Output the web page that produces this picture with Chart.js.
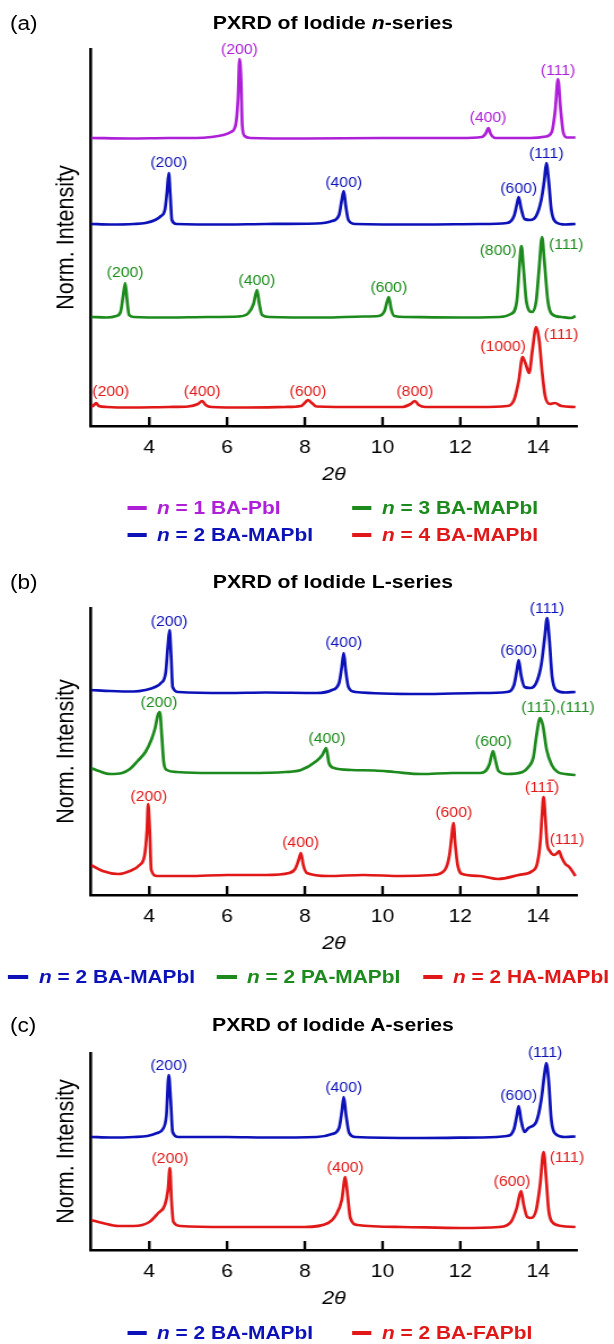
<!DOCTYPE html>
<html>
<head>
<meta charset="utf-8">
<script src="https://cdn.jsdelivr.net/npm/chart.js@4.4.1/dist/chart.umd.min.js"></script>
<style>
  html, body { margin: 0; background: #fff; }
  /* the source figure is stretched a bit sideways, so draw narrow and widen it */
  #page { position: relative; width: 544px; height: 1344px; transform: scaleX(1.1287); transform-origin: 0 0;
          font-family: "Liberation Sans", Arial, sans-serif; color: #000; }
  .abs { position: absolute; white-space: nowrap; line-height: 1; transform: translateY(-50%); }
  .title { font-weight: bold; font-size: 18.8px; transform: translate(-50%, -50%); }
  .tag { font-size: 20px; }
  .leg { font-weight: bold; font-size: 18.5px; }
  .dash { position: absolute; width: 17.5px; height: 3.3px; }
  canvas { position: absolute; left: 0; }
</style>
</head>
<body>
<div id="page">
  <div class="abs tag" style="left:8.9px;top:23px">(a)</div>
  <div class="abs title" style="left:295px;top:23px">PXRD of Iodide <i>n</i>-series</div>
  <canvas id="chartA" width="544" height="452" style="top:40px"></canvas>
  <div class="dash" style="left:112.5px;top:506.4px;background:#AE20D8"></div>
  <div class="abs leg" style="left:139.1px;top:508px;color:#AE20D8"><i>n</i> = 1 BA-PbI</div>
  <div class="dash" style="left:311.9px;top:506.4px;background:#1C8A1C"></div>
  <div class="abs leg" style="left:338.4px;top:508px;color:#1C8A1C"><i>n</i> = 3 BA-MAPbI</div>
  <div class="dash" style="left:112.5px;top:533.4px;background:#0D12B8"></div>
  <div class="abs leg" style="left:139.1px;top:535px;color:#0D12B8"><i>n</i> = 2 BA-MAPbI</div>
  <div class="dash" style="left:311.9px;top:533.4px;background:#E01818"></div>
  <div class="abs leg" style="left:338.4px;top:535px;color:#E01818"><i>n</i> = 4 BA-MAPbI</div>

  <div class="abs tag" style="left:8.9px;top:582px">(b)</div>
  <div class="abs title" style="left:295px;top:582px">PXRD of Iodide L-series</div>
  <canvas id="chartB" width="544" height="362" style="top:599px"></canvas>
  <div class="dash" style="left:7.1px;top:975.4px;background:#0D12B8"></div>
  <div class="abs leg" style="left:34.6px;top:977px;color:#0D12B8"><i>n</i> = 2 BA-MAPbI</div>
  <div class="dash" style="left:192.3px;top:975.4px;background:#1C8A1C"></div>
  <div class="abs leg" style="left:218.8px;top:977px;color:#1C8A1C"><i>n</i> = 2 PA-MAPbI</div>
  <div class="dash" style="left:374.8px;top:975.4px;background:#E01818"></div>
  <div class="abs leg" style="left:401.4px;top:977px;color:#E01818"><i>n</i> = 2 HA-MAPbI</div>

  <div class="abs tag" style="left:8.9px;top:1025px">(c)</div>
  <div class="abs title" style="left:295px;top:1025px">PXRD of Iodide A-series</div>
  <canvas id="chartC" width="544" height="272" style="top:1044px"></canvas>
  <div class="dash" style="left:112.5px;top:1331.4px;background:#0D12B8"></div>
  <div class="abs leg" style="left:139.1px;top:1333px;color:#0D12B8"><i>n</i> = 2 BA-MAPbI</div>
  <div class="dash" style="left:311.9px;top:1331.4px;background:#E01818"></div>
  <div class="abs leg" style="left:338.4px;top:1333px;color:#E01818"><i>n</i> = 2 BA-FAPbI</div>
</div>

<script>
// x axis (2theta) and tick labels
const xMin = 2.5, xMax = 15;
const xTicks = [4, 6, 8, 10, 12, 14];

const purple = "#AE20D8";
const blue = "#0D12B8";
const green = "#1C8A1C";
const red = "#E01818";

// ---- (a) n-series : [2theta, offset intensity]
const aN1BAPbI = [[2.5,288],[3.5,287.5],[4.5,288],[5.2,288],[5.6,289],[5.9,291],[6.1,294],[6.22,301],[6.28,326],[6.32,367],[6.36,346],[6.39,301],[6.45,290],[6.6,288],[8,287.5],[10,288],[12,288],[12.55,289],[12.66,293],[12.72,298],[12.78,292],[12.9,288],[13.8,288],[14.2,289.5],[14.35,294],[14.44,316],[14.51,347],[14.58,316],[14.65,293],[14.75,288.5],[14.96,288.5]];
const aN2BAMAPbI = [[2.5,202],[3.0,201.5],[3.6,202],[3.9,203],[4.15,206],[4.3,210],[4.4,216],[4.46,236],[4.5,253],[4.54,231],[4.58,206],[4.7,202],[6,201.5],[7,202],[8.3,202.5],[8.7,205],[8.88,211],[8.95,226],[9.0,235],[9.05,221],[9.12,206],[9.3,202],[11,201.5],[12.5,202],[13.2,203],[13.38,210],[13.45,221],[13.5,229],[13.56,218],[13.65,207],[13.8,206],[13.95,210],[14.08,226],[14.16,246],[14.21,263],[14.27,246],[14.34,216],[14.45,204],[14.7,201.5],[14.96,202]];
const aN3BAMAPbI = [[2.5,109],[2.9,108.5],[3.15,110],[3.26,114],[3.32,128],[3.38,143],[3.43,125],[3.48,111],[3.6,109],[4.5,108.5],[5.5,109],[6.3,109.5],[6.55,113],[6.68,122],[6.77,136],[6.83,122],[6.9,111],[7.1,109],[8.5,108.5],[9.5,109.5],[9.9,110],[10.05,115],[10.16,129],[10.22,117],[10.3,110],[10.6,109],[12,108.5],[13.0,109],[13.3,112],[13.45,124],[13.52,160],[13.57,180],[13.62,160],[13.7,124],[13.84,114],[13.95,125],[14.03,160],[14.1,189],[14.16,165],[14.25,125],[14.35,112],[14.6,109],[14.85,108],[14.96,110]];
const aN4BAMAPbI = [[2.5,19],[2.58,21],[2.63,23],[2.7,20],[2.9,19],[3.5,18.5],[4.5,19],[5.0,19.5],[5.25,22],[5.36,25],[5.45,21],[5.6,19],[6.5,18.5],[7.5,19],[7.9,20],[8.02,24],[8.08,26],[8.18,23],[8.3,19.5],[9.5,19],[10.5,19],[10.72,22],[10.83,25],[10.93,21],[11.1,19],[12.5,19],[13.2,20],[13.38,26],[13.5,45],[13.6,69],[13.68,62],[13.77,53],[13.85,75],[13.95,99],[14.03,85],[14.1,55],[14.18,30],[14.3,22],[14.43,23],[14.6,20],[14.96,19]];

const aN1Peaks = [[6.32,376,"(200)"],[12.71,308,"(400)"],[14.51,355,"(111)"]];
const aN2Peaks = [[4.5,263,"(200)"],[9.0,243,"(400)"],[13.5,237,"(600)"],[14.21,272,"(111)"]];
const aN3Peaks = [[3.38,153,"(200)"],[6.77,145,"(400)"],[10.16,138,"(600)"],[12.97,175,"(800)"],[14.72,181,"(111)"]];
const aN4Peaks = [[3.01,34,"(200)"],[5.36,34,"(400)"],[8.08,34,"(600)"],[10.83,34,"(800)"],[13.1,79,"(1000)"],[14.59,91,"(111)"]];

// ---- (b) L-series
const bBAMAPbI = [[2.5,205],[3.0,204],[3.6,203.5],[3.9,205],[4.15,208],[4.3,212],[4.42,222],[4.48,250],[4.52,265],[4.56,240],[4.6,208],[4.75,203],[6,202],[7,202.5],[8.3,202],[8.7,205],[8.88,212],[8.95,228],[9.0,242],[9.05,225],[9.12,208],[9.3,203],[11,201],[12.5,202],[13.2,203],[13.38,210],[13.45,224],[13.5,235],[13.56,220],[13.65,208],[13.8,207],[13.95,212],[14.08,230],[14.17,258],[14.23,277],[14.29,255],[14.36,218],[14.46,205],[14.7,202.5],[14.96,203]];
const bPAMAPbI = [[2.5,127],[2.7,124],[3.0,121],[3.3,122],[3.5,126],[3.7,134],[3.9,143],[4.05,155],[4.15,167],[4.22,180],[4.27,183],[4.32,160],[4.37,133],[4.45,125],[4.7,123],[5.5,122],[6.5,122],[7.5,123],[7.9,125],[8.3,134],[8.45,140],[8.55,147],[8.62,132],[8.75,127],[9.2,125],[9.8,124.5],[10.3,123],[11.0,121],[11.8,122],[12.5,122],[12.65,124],[12.75,131],[12.84,144],[12.9,135],[12.98,124],[13.2,121],[13.6,123],[13.75,128],[13.88,138],[13.96,160],[14.05,177],[14.12,170],[14.22,145],[14.35,130],[14.5,123],[14.7,121],[14.96,120]];
const bHAMAPbI = [[2.5,30],[2.8,24],[3.2,21],[3.5,24],[3.75,30],[3.88,40],[3.94,65],[3.97,91],[4.01,65],[4.05,25],[4.2,19],[5.0,19],[6.0,20],[7.0,20],[7.6,22],[7.75,26],[7.84,35],[7.9,42],[7.96,30],[8.05,22],[8.6,19],[9.5,20],[10.5,19],[11.3,20],[11.6,25],[11.72,40],[11.78,60],[11.82,72],[11.87,50],[11.93,30],[12.05,21],[12.5,19],[12.97,16],[13.5,20],[13.85,24],[13.98,32],[14.06,55],[14.1,80],[14.14,98],[14.18,80],[14.23,52],[14.3,44],[14.42,40],[14.49,42],[14.54,44],[14.6,38],[14.7,31],[14.8,28],[14.96,19]];

const bBAPeaks = [[4.51,273,"(200)"],[9.0,252,"(400)"],[13.5,244,"(600)"],[14.23,286,"(111)"]];
const bPAPeaks = [[4.25,192,"(200)"],[8.57,156,"(400)"],[12.85,153,"(600)"],[14.51,187,"(111\u0305),(111)"]];
const bHAPeaks = [[3.99,98,"(200)"],[7.89,52,"(400)"],[11.83,82,"(600)"],[14.1,107,"(111\u0305)"],[14.74,55,"(111)"]];

// ---- (c) A-series
const cBAMAPbI = [[2.5,113],[3.0,112.5],[3.6,113],[3.95,114],[4.2,117],[4.35,121],[4.44,135],[4.5,175],[4.55,150],[4.6,118],[4.75,113],[6,113],[7,112.5],[8.3,113],[8.7,116],[8.88,122],[8.95,138],[9.0,153],[9.06,135],[9.14,117],[9.3,113],[11,112],[12.5,112.5],[13.2,114],[13.38,121],[13.45,134],[13.5,144],[13.56,130],[13.65,118],[13.75,122],[13.95,128],[14.08,150],[14.16,175],[14.21,187],[14.27,170],[14.34,130],[14.45,116],[14.7,113],[14.96,113.5]];
const cBAFAPbI = [[2.5,30],[2.8,27],[3.2,24],[3.6,24],[4.0,28],[4.23,37],[4.4,45],[4.48,60],[4.53,82],[4.57,50],[4.62,28],[4.8,24],[6,23],[7,23],[8.0,23],[8.6,27],[8.8,35],[8.95,50],[9.04,73],[9.1,55],[9.17,32],[9.35,25],[10.5,23],[12,22],[13.0,23],[13.3,28],[13.45,42],[13.56,59],[13.63,45],[13.72,33],[13.82,32],[13.95,40],[14.05,65],[14.14,98],[14.2,75],[14.27,40],[14.36,28],[14.6,24],[14.96,23]];

const cBAPeaks = [[4.5,184,"(200)"],[9.0,162,"(400)"],[13.5,154,"(600)"],[14.18,197,"(111)"]];
const cFAPeaks = [[4.53,91,"(200)"],[9.04,82,"(400)"],[13.33,68,"(600)"],[14.74,92,"(111)"]];

const FONT = '"Liberation Sans", Arial, sans-serif';

// draws "(11\u0305)" style labels: combining overline becomes a drawn bar
function drawLabel(ctx, text, x, y, size) {
  const clean = text.replace(/\u0305/g, "");
  const w = ctx.measureText(clean).width;
  ctx.fillText(clean, x, y);
  const left = x - w / 2;
  for (let i = 0; i < text.length; i++) {
    if (text[i] !== "\u0305") continue;
    const before = text.slice(0, i - 1).replace(/\u0305/g, "");
    const x0 = left + ctx.measureText(before).width;
    const cw = ctx.measureText(text[i - 1]).width;
    ctx.lineWidth = 1.2;
    ctx.beginPath();
    ctx.moveTo(x0 + 1.5, y - size * 0.56);
    ctx.lineTo(x0 + cw - 0.5, y - size * 0.56);
    ctx.stroke();
  }
}

const peakLabels = {
  id: "peakLabels",
  afterDatasetsDraw(chart) {
    const { ctx, scales: { x, y } } = chart;
    ctx.save();
    ctx.font = "14px " + FONT;
    ctx.textAlign = "center";
    ctx.textBaseline = "middle";
    chart.data.datasets.forEach(ds => {
      ctx.fillStyle = ds.borderColor;
      ctx.strokeStyle = ds.borderColor;
      (ds.peakLabels || []).forEach(([px, py, text]) => {
        drawLabel(ctx, text, x.getPixelForValue(px), y.getPixelForValue(py), 14);
      });
    });
    ctx.restore();
  }
};

// tick marks point into the plot
const innerTicks = {
  id: "innerTicks",
  afterDraw(chart) {
    const { ctx, chartArea, scales: { x } } = chart;
    ctx.save();
    ctx.strokeStyle = "#000";
    ctx.lineWidth = 2.4;
    x.ticks.forEach(t => {
      const px = x.getPixelForValue(t.value);
      ctx.beginPath();
      ctx.moveTo(px, chartArea.bottom);
      ctx.lineTo(px, chartArea.bottom - 9);
      ctx.stroke();
    });
    ctx.restore();
  }
};

const toXY = pts => pts.map(([x, y]) => ({ x, y }));

function makePanel(id, yMax, series) {
  return new Chart(document.getElementById(id), {
    type: "line",
    data: {
      datasets: series.map(s => ({
        label: s.label,
        data: toXY(s.points),
        borderColor: s.color,
        borderWidth: 2.7,
        pointRadius: 0,
        cubicInterpolationMode: "monotone",
        peakLabels: s.peaks
      }))
    },
    options: {
      responsive: false,
      animation: false,
      layout: { padding: { top: 9, right: 32.8, left: 0, bottom: 0 } },
      plugins: { legend: { display: false }, tooltip: { enabled: false } },
      scales: {
        x: {
          type: "linear",
          min: xMin,
          max: xMax,
          afterBuildTicks: scale => { scale.ticks = xTicks.map(v => ({ value: v })); },
          afterFit: scale => { scale.height = 66; },
          grid: { display: false, drawTicks: false },
          border: { display: true, color: "#000", width: 2.6 },
          ticks: { color: "#000", padding: 11, maxRotation: 0, autoSkip: false, font: { family: FONT, size: 18.6 } },
          title: { display: true, text: "2θ", color: "#000", padding: { top: 0, bottom: 5.6 },
                   font: { family: FONT, size: 19, style: "italic" } }
        },
        y: {
          min: 0,
          max: yMax,
          afterFit: scale => { scale.width = 80.6; },
          grid: { display: false, drawTicks: false },
          border: { display: true, color: "#000", width: 2.6 },
          ticks: { display: false },
          title: { display: true, text: "Norm. Intensity", color: "#000", padding: { top: 46.5, bottom: 0 },
                   font: { family: FONT, size: 21.5 } }
        }
      }
    },
    plugins: [peakLabels, innerTicks]
  });
}

makePanel("chartA", 377, [
  { label: "n = 1 BA-PbI", points: aN1BAPbI, peaks: aN1Peaks, color: purple },
  { label: "n = 2 BA-MAPbI", points: aN2BAMAPbI, peaks: aN2Peaks, color: blue },
  { label: "n = 3 BA-MAPbI", points: aN3BAMAPbI, peaks: aN3Peaks, color: green },
  { label: "n = 4 BA-MAPbI", points: aN4BAMAPbI, peaks: aN4Peaks, color: red }
]);

makePanel("chartB", 287, [
  { label: "n = 2 BA-MAPbI", points: bBAMAPbI, peaks: bBAPeaks, color: blue },
  { label: "n = 2 PA-MAPbI", points: bPAMAPbI, peaks: bPAPeaks, color: green },
  { label: "n = 2 HA-MAPbI", points: bHAMAPbI, peaks: bHAPeaks, color: red }
]);

makePanel("chartC", 197, [
  { label: "n = 2 BA-MAPbI", points: cBAMAPbI, peaks: cBAPeaks, color: blue },
  { label: "n = 2 BA-FAPbI", points: cBAFAPbI, peaks: cFAPeaks, color: red }
]);
</script>
</body>
</html>
